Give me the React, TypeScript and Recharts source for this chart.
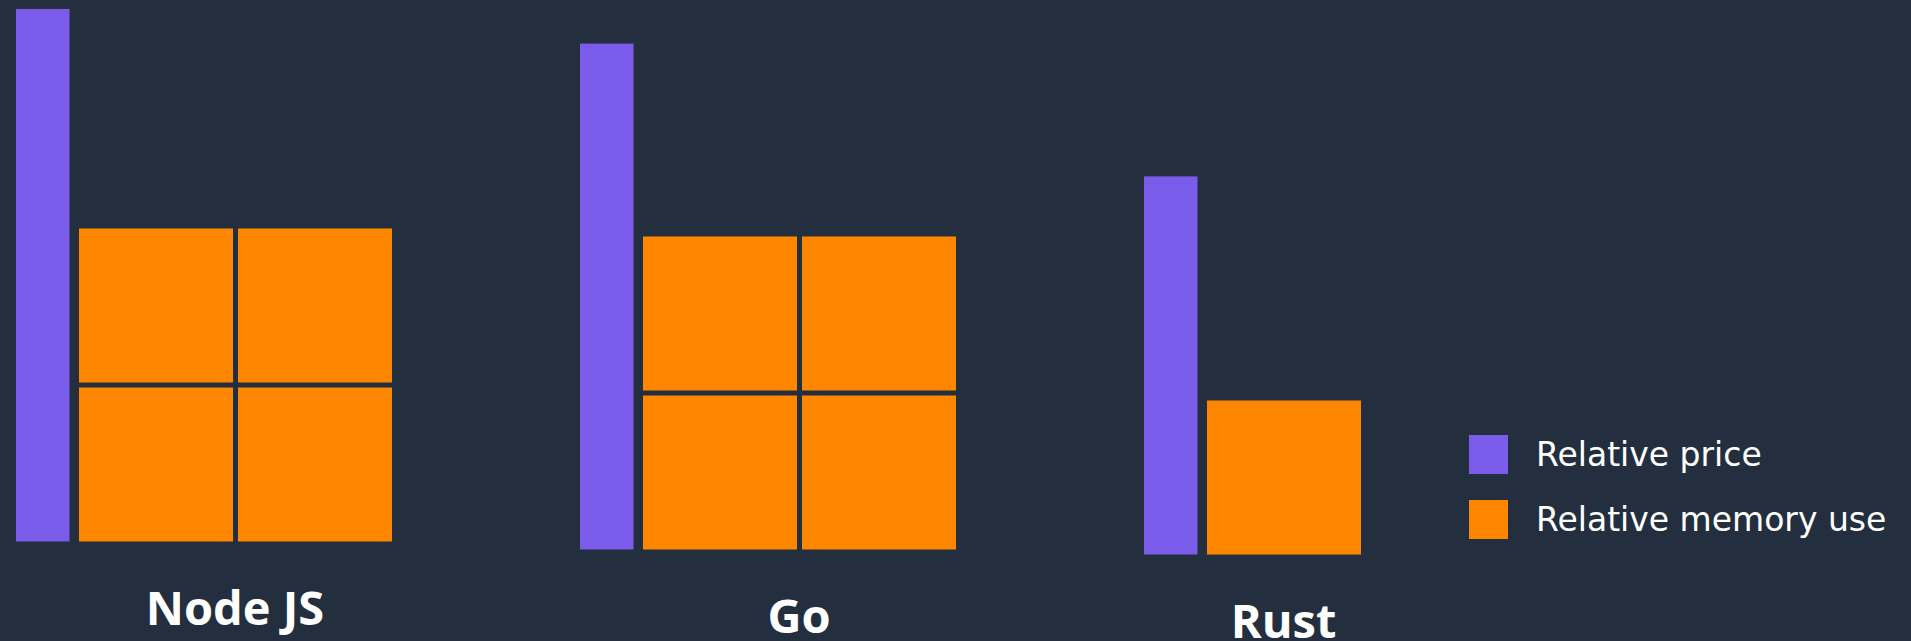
import { BarChart, Bar, XAxis, YAxis, Legend } from "recharts";

// values
const languages = ["Node JS", "Go", "Rust"];
const relativePrice = [100, 95, 71]; // Node JS = 100
const memoryBlocks = [4, 4, 1]; // number of memory blocks
const priceName = "Relative price";
const memoryName = "Relative memory use";

// colours and layout
const BG = "#232f3e";
const PURPLE = "#7b5be9";
const ORANGE = "#ff8700";
const PLOT_H = 556.5;
const AXIS_H = 100;
const PRICE_BAR = 58;
const CELL = 154;
const GAP = 5;
const groupLeft = [15, 579, 1143];
const groupBase = [541, 549.5, 554];

function buildRow(i: number) {
	const n = memoryBlocks[i];
	const cols = Math.ceil(Math.sqrt(n));
	const rows = Math.ceil(n / cols);
	const row: Record<string, string | number> = { lang: languages[i], price: relativePrice[i] };
	for (let c = 0; c < cols; c++) {
		for (let r = 0; r < rows; r++) {
			if (c * rows + r < n) row[`m${c}_${r}`] = 1;
		}
	}
	return { row, cols, rows };
}

const PriceShape = (props: any) => (
	<rect x={props.x} y={props.y} width={Math.max(props.width - 4.5, 0)} height={props.height} fill={props.fill} />
);

const CellShape = (props: any) => (
	<rect x={props.x} y={props.y + GAP} width={props.width} height={Math.max(props.height - GAP, 0)} fill={props.fill} />
);

const LangTick = (props: any) => (
	<text
		x={props.x + (PRICE_BAR + GAP) / 2}
		y={props.y + 83}
		textAnchor="middle"
		fill="#ffffff"
		fontFamily="'Open Sans', sans-serif"
		fontWeight={700}
		fontSize={47}
	>
		{props.payload.value}
	</text>
);

const legendOrder = [priceName, memoryName];

const renderLegend = (props: any) => {
	const items = legendOrder
		.map((name) => (props.payload || []).find((e: any) => e.value === name))
		.filter(Boolean);
	return (
		<div>
			{items.map((e: any) => (
				<div key={e.value} style={{ display: "flex", alignItems: "center", height: 65, whiteSpace: "nowrap" }}>
					<span style={{ width: 39, height: 39, background: e.color, display: "inline-block" }} />
					<span
						style={{
							marginLeft: 28,
							color: "#ffffff",
							fontFamily: "'DejaVu Sans', sans-serif",
							fontSize: 33,
							lineHeight: "39px",
						}}
					>
						{e.value}
					</span>
				</div>
			))}
		</div>
	);
};

function LanguageChart({ i, showLegend }: { i: number; showLegend: boolean }) {
	const { row, cols, rows } = buildRow(i);
	// one spare pixel so Recharts keeps the bar gaps
	const width = PRICE_BAR + cols * (CELL + GAP) + 1;
	const top = groupBase[i] - PLOT_H;
	const cells: JSX.Element[] = [];
	for (let c = 0; c < cols; c++) {
		for (let r = 0; r < rows; r++) {
			const key = `m${c}_${r}`;
			if (row[key] === undefined) continue;
			cells.push(
				<Bar
					key={key}
					dataKey={key}
					name={memoryName}
					stackId={`col${c}`}
					yAxisId="mem"
					barSize={CELL}
					fill={ORANGE}
					shape={CellShape}
					isAnimationActive={false}
				/>
			);
		}
	}
	return (
		<div style={{ position: "absolute", left: groupLeft[i], top }}>
			<BarChart
				width={width}
				height={PLOT_H + AXIS_H}
				data={[row]}
				margin={{ top: 0, right: 0, left: 0, bottom: 0 }}
				barGap={GAP}
				barCategoryGap={0}
			>
				<XAxis
					dataKey="lang"
					height={AXIS_H}
					axisLine={false}
					tickLine={false}
					tickSize={0}
					tickMargin={0}
					interval={0}
					tick={<LangTick />}
				/>
				<YAxis yAxisId="price" hide domain={[0, 104.5]} />
				<YAxis yAxisId="mem" hide domain={[0, 3.5]} />
				<Bar
					dataKey="price"
					name={priceName}
					stackId="price"
					yAxisId="price"
					barSize={PRICE_BAR}
					fill={PURPLE}
					shape={PriceShape}
					isAnimationActive={false}
				/>
				{cells}
				{showLegend && (
					<Legend
						layout="vertical"
						align="center"
						verticalAlign="middle"
						content={renderLegend}
						wrapperStyle={{ left: 1469 - groupLeft[i], top: 435 - 13 - top, width: 440 }}
					/>
				)}
			</BarChart>
		</div>
	);
}

export default function App() {
	return (
		<div
			style={{
				position: "fixed",
				left: 0,
				top: 0,
				width: 1911,
				height: 641,
				background: BG,
				overflow: "hidden",
			}}
		>
			{languages.map((_, i) => (
				<LanguageChart key={languages[i]} i={i} showLegend={i === languages.length - 1} />
			))}
		</div>
	);
}
